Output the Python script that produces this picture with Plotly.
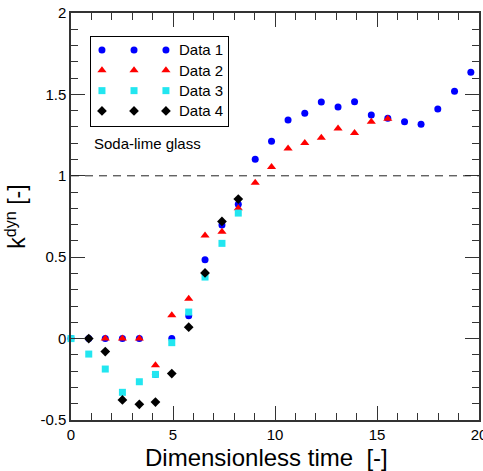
import plotly.graph_objects as go

# ---- data ----
time = [0, 0.87, 1.68, 2.52, 3.35, 4.14, 4.94, 5.77, 6.57, 7.4, 8.2, 9.03, 9.83,
        10.64, 11.46, 12.27, 13.09, 13.9, 14.72, 15.53, 16.35, 17.16, 17.98, 18.8, 19.6]

data1_t = time
data1_y = [0, 0, 0, 0, 0, -0.22, 0, 0.14, 0.485, 0.698, 0.825, 1.101, 1.212, 1.343,
           1.384, 1.453, 1.423, 1.455, 1.373, 1.353, 1.332, 1.316, 1.41, 1.519, 1.636]

data2_t = time[2:20]
data2_y = [0, 0, 0, -0.164, 0.143, 0.245, 0.634, 0.657, 0.8, 0.958, 1.054, 1.167,
           1.201, 1.234, 1.29, 1.263, 1.332, 1.351]

data3_t = time[0:11]
data3_y = [0, -0.095, -0.187, -0.33, -0.265, -0.22, -0.025, 0.163, 0.378, 0.585, 0.771]

data4_t = time[1:11]
data4_y = [0, -0.08, -0.377, -0.404, -0.39, -0.215, 0.07, 0.403, 0.72, 0.857]

series_names = ["Data 1", "Data 2", "Data 3", "Data 4"]
series_colors = ["#0000FF", "#FF0000", "#22E6F0", "#000000"]
series_symbols = ["circle", "triangle-up", "square", "diamond"]
series_sizes = [7, 8, 7, 7.5]

x_tickvals = [0, 5, 10, 15, 20]
x_ticktext = ["0", "5", "10", "15", "20"]
y_tickvals = [-0.5, 0, 0.5, 1, 1.5, 2]
y_ticktext = ["-0.5", "0", "0.5", "1", "1.5", "2"]

reference_level = 1
note_text = "Soda-lime glass"
x_title = "Dimensionless time  [-]"
y_title = "k<sup>dyn</sup> [-]"

FONT = "Liberation Sans, Arial, sans-serif"
AXC = "#333333"

fig = go.Figure()

all_t = [data1_t, data2_t, data3_t, data4_t]
all_y = [data1_y, data2_y, data3_y, data4_y]
for t, y, name, c, s, sz in zip(all_t, all_y, series_names, series_colors,
                                series_symbols, series_sizes):
    fig.add_trace(go.Scatter(x=t, y=y, mode="markers", name=name, cliponaxis=False,
                             marker=dict(color=c, symbol=s, size=sz, line=dict(width=0)),
                             showlegend=False))

# dashed reference line at k = 1
fig.add_shape(type="line", xref="x", yref="y", x0=0, x1=20,
              y0=reference_level, y1=reference_level,
              line=dict(color="#222222", width=1, dash="8px,6px"))

# ---- custom legend (three samples per entry), drawn in an inset axis ----
n = len(series_names)
sample_cols = [0.08, 0.314, 0.547]
for i in range(n):
    ry = 1 - (0.146 + i * (0.685 / (n - 1)))
    fig.add_trace(go.Scatter(x=sample_cols, y=[ry] * len(sample_cols), mode="markers",
                             xaxis="x2", yaxis="y2", showlegend=False, hoverinfo="skip",
                             cliponaxis=False,
                             marker=dict(color=series_colors[i], symbol=series_symbols[i],
                                         size=series_sizes[i], line=dict(width=0))))
    fig.add_annotation(x=0.628, y=ry, xref="x2", yref="y2", text=series_names[i],
                       showarrow=False, xanchor="left", yanchor="middle",
                       font=dict(family=FONT, size=15, color="black"))

fig.add_annotation(x=(92 - 71) / 408, y=1 - (143 - 13) / 407, xref="paper", yref="paper",
                   text=note_text, showarrow=False, xanchor="left", yanchor="middle",
                   font=dict(family=FONT, size=15, color="black"))

fig.add_annotation(x=0.478, y=-0.054, xref="paper", yref="paper", text=x_title,
                   showarrow=False, xanchor="center", yanchor="top",
                   font=dict(family=FONT, size=24, color="black"))

axis_common = dict(showgrid=False, zeroline=False, showline=True, linecolor=AXC,
                   linewidth=1.5, mirror="allticks", ticks="inside", ticklen=14,
                   tickwidth=1, tickcolor=AXC, automargin=False,
                   ticklabeloverflow="allow",
                   tickfont=dict(family=FONT, size=15, color="black"))

fig.update_layout(
    width=483, height=471,
    margin=dict(l=71, r=4, t=13, b=51),
    paper_bgcolor="white", plot_bgcolor="white",
    template="none",
    xaxis=dict(range=[0, 20], tickmode="array", tickvals=x_tickvals, ticktext=x_ticktext,
               minor=dict(dtick=1, tick0=0, ticks="inside", ticklen=7, tickcolor=AXC),
               **axis_common),
    yaxis=dict(range=[-0.5, 2], tickmode="array", tickvals=y_tickvals, ticktext=y_ticktext,
               minor=dict(dtick=0.1, tick0=0, ticks="inside", ticklen=7, tickcolor=AXC),
               title=dict(text=y_title, font=dict(family=FONT, size=23, color="black"),
                          standoff=8),
               **axis_common),
    xaxis2=dict(domain=[(91 - 71) / 408, (228 - 71) / 408], range=[0, 1], anchor="y2",
                showgrid=False, zeroline=False, showticklabels=False, ticks="",
                showline=True, mirror=True, linecolor="black", linewidth=1,
                fixedrange=True),
    yaxis2=dict(domain=[1 - (126 - 13) / 407, 1 - (37 - 13) / 407], range=[0, 1],
                anchor="x2", showgrid=False, zeroline=False, showticklabels=False,
                ticks="", showline=True, mirror=True, linecolor="black", linewidth=1,
                fixedrange=True),
    showlegend=False,
)

fig.write_html("out.html")
